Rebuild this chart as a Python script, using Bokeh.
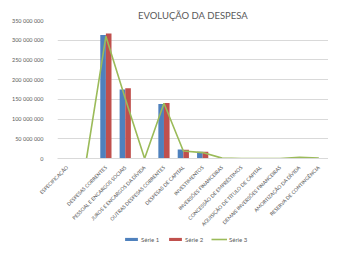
import math
from bokeh.plotting import figure
from bokeh.layouts import column
from bokeh.models import (ColumnDataSource, FactorRange, Legend, LegendItem,
                          FixedTicker, CustomJSTickFormatter)
from bokeh.transform import dodge
from bokeh.embed import file_html
from bokeh.resources import INLINE

nan = float("nan")

categories = ["ESPECIFICAÇÃO", " ", "DESPESAS CORRENTES", "PESSOAL E ENCARGOS SOCIAIS",
              "JUROS E ENCARGOS DA DÍVIDA", "OUTRAS DESPESAS CORRENTES",
              "DESPESAS DE CAPITAL", "INVESTIMENTOS", "INVERSÕES FINANCEIRAS",
              "CONCESSÃO DE EMPRÉSTIMOS", "AQUISIÇÃO DE TÍTULO DE CAPITAL",
              "DEMAIS INVERSÕES FINANCEIRAS", "AMORTIZAÇÃO DA DÍVIDA",
              "RESERVA DE CONTINGÊNCIA"]
serie1 = [nan, 0, 313e6, 175e6, 0, 138e6, 23e6, 17e6, 0, 0, 0, 0, 0, 0]
serie2 = [nan, 0, 317e6, 178e6, 0, 141e6, 22e6, 17e6, 0, 0, 0, 0, 0, 0]
serie3 = [nan, 0, 310e6, 152e6, 0, 140e6, 19e6, 15e6, 1e6, 0, 0, 0, 3e6, 1e6]
y_ticks = [0, 50e6, 100e6, 150e6, 200e6, 250e6, 300e6, 350e6]
legend_labels = ["Série 1", "Série 2", "Série 3"]

BLUE, RED, GREEN = "#4F81BD", "#C0504D", "#9BBB59"
FONT = "Lato"
GRAY = "#595959"

src = ColumnDataSource(dict(cat=categories, s1=serie1, s2=serie2, s3=serie3))

p = figure(width=328, height=232, x_range=FactorRange(*categories),
           y_range=(0, 350e6), output_backend="svg", toolbar_location=None,
           min_border_left=57, min_border_right=0, min_border_top=20, min_border_bottom=60)

p.title.text = "EVOLUÇÃO DA DESPESA"
p.title.align = "center"
p.title.text_font = FONT
p.title.text_font_size = "9.5px"
p.title.text_font_style = "normal"
p.title.text_color = GRAY
p.title.offset = 0
p.title.standoff = 0

p.vbar(x=dodge("cat", -0.145, range=p.x_range), top="s1", width=0.29, source=src,
       fill_color=BLUE, line_color=None)
p.vbar(x=dodge("cat", 0.145, range=p.x_range), top="s2", width=0.29, source=src,
       fill_color=RED, line_color=None)
p.line(x="cat", y="s3", source=src, line_color=GREEN, line_width=1.6)

p.outline_line_color = None
p.xgrid.grid_line_color = None
p.ygrid.grid_line_color = "#D9D9D9"

p.yaxis.ticker = FixedTicker(ticks=y_ticks)
p.yaxis.formatter = CustomJSTickFormatter(
    code="return tick.toFixed(0).replace(/\\B(?=(\\d{3})+(?!\\d))/g, ' ');")
p.yaxis.axis_line_color = None
p.yaxis.major_tick_line_color = None
p.yaxis.minor_tick_line_color = None
p.yaxis.major_label_text_font = FONT
p.yaxis.major_label_text_font_size = "5.5px"
p.yaxis.major_label_text_color = GRAY
p.yaxis.major_label_standoff = 8

p.xaxis.axis_line_color = "#D9D9D9"
p.xaxis.major_tick_line_color = None
p.xaxis.minor_tick_line_color = None
p.xaxis.major_label_orientation = math.pi / 4
p.xaxis.major_label_text_font = FONT
p.xaxis.major_label_text_font_size = "5px"
p.xaxis.major_label_text_color = GRAY
p.xaxis.major_label_standoff = 2

# legend row (separate strip below the chart)
lg = figure(width=328, height=10, output_backend="svg", toolbar_location=None,
            x_axis_type=None, y_axis_type=None, min_border=0,
            x_range=(0, 1), y_range=(0, 1))
lg.outline_line_color = None
lg.grid.grid_line_color = None
empty = ColumnDataSource(dict(x=[nan], y=[nan]))
r1 = lg.vbar(x="x", top="y", width=0.1, source=empty, fill_color=BLUE, line_color=None)
r2 = lg.vbar(x="x", top="y", width=0.1, source=empty, fill_color=RED, line_color=None)
r3 = lg.line(x="x", y="y", source=empty, line_color=GREEN, line_width=1.6)
legend = Legend(items=[LegendItem(label=legend_labels[0], renderers=[r1]),
                       LegendItem(label=legend_labels[1], renderers=[r2]),
                       LegendItem(label=legend_labels[2], renderers=[r3])],
                orientation="horizontal", location=(66, -1),
                label_text_font=FONT, label_text_font_size="6px", label_text_color=GRAY,
                glyph_width=16, glyph_height=4, label_height=8, label_standoff=2,
                spacing=6, padding=2, margin=0, border_line_color=None,
                background_fill_alpha=0)
lg.add_layout(legend, "center")

layout = column(p, lg, spacing=0)
open("out.html", "w").write(file_html(layout, INLINE))
